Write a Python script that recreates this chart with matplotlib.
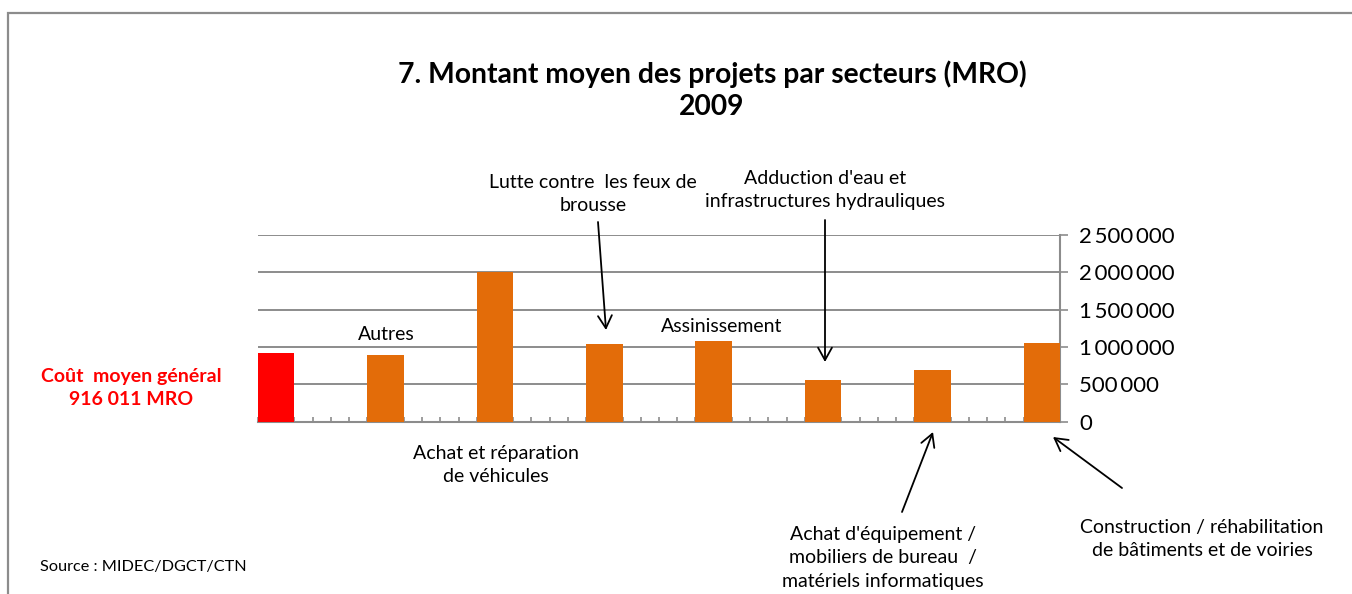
import matplotlib
matplotlib.use("Agg")
import matplotlib.pyplot as plt
from matplotlib.patches import Rectangle, FancyArrowPatch
from matplotlib.ticker import FuncFormatter, MultipleLocator

plt.rcParams['font.family'] = ['Lato', 'DejaVu Sans']

# ---- data ----
categories = ["Coût moyen général", "Autres", "Achat et réparation de véhicules",
              "Lutte contre les feux de brousse", "Assinissement",
              "Adduction d'eau et infrastructures hydrauliques",
              "Achat d'équipement / mobiliers de bureau / matériels informatiques",
              "Construction / réhabilitation de bâtiments et de voiries"]
values = [916011, 895000, 2005000, 1045000, 1075000, 560000, 690000, 1055000]
bar_colors = ["#FF0000"] + ["#E36C09"] * 7
slot_positions = [0, 6, 12, 18, 24, 30, 36, 42]   # category slots on a 44-slot axis
n_slots = 44
yticks = [0, 500000, 1000000, 1500000, 2000000, 2500000]

W, H = 1352, 594
fig = plt.figure(figsize=(W / 100, H / 100), dpi=100)

def px(x, y):
    return (x / W, 1 - y / H)

# chart border
fig.add_artist(Rectangle(px(8, 700), (W + 50) / W, (700 - 13) / H,
                         transform=fig.transFigure, fill=False,
                         edgecolor="#8C8C8C", linewidth=1.6, clip_on=False))

left, right, top, bottom = 258, 1060, 235, 421.5
ax = fig.add_axes([left / W, 1 - bottom / H, (right - left) / W, (bottom - top) / H])
ax.bar(slot_positions, values, width=2, align='edge', color=bar_colors, zorder=3)
ax.set_xlim(0, n_slots)
ax.set_ylim(0, 2500000)

ax.yaxis.tick_right()
ax.set_yticks(yticks)
ax.yaxis.set_major_formatter(FuncFormatter(lambda v, p: f"{int(v):,}".replace(",", "\u2009")))
ax.grid(axis='y', color="#8C8C8C", linewidth=1.4, zorder=0)
ax.xaxis.set_major_locator(MultipleLocator(1))
ax.set_xticklabels([])
ax.tick_params(axis='x', direction='in', length=3.5, color="#8C8C8C", width=1.2)
ax.tick_params(axis='y', direction='out', length=6, color="#8C8C8C", width=1.2,
               labelsize=16, pad=8, labelcolor='black')
for s in ['top', 'left']:
    ax.spines[s].set_visible(False)
for s in ['right', 'bottom']:
    ax.spines[s].set_color("#8C8C8C")
    ax.spines[s].set_linewidth(1.5)

# title
fig.text(*px(712, 90), "7. Montant moyen des projets par secteurs (MRO)\n2009",
         ha='center', va='center', fontsize=20.3, fontweight='bold', linespacing=1.3)

FS = 14
def label(x, y, s, **kw):
    fig.text(*px(x, y), s, ha='center', va='center', fontsize=FS, linespacing=1.45, **kw)

label(386, 334, "Autres")
label(722, 327, "Assinissement")
label(593, 194, "Lutte contre  les feux de\nbrousse")
label(825, 190, "Adduction d'eau et\ninfrastructures hydrauliques")
label(496, 465, "Achat et réparation\nde véhicules")
label(883, 558, "Achat d'équipement /\nmobiliers de bureau  /\nmatériels informatiques")
label(1202, 539, "Construction / réhabilitation\nde bâtiments et de voiries")
fig.text(*px(131, 388), "Coût  moyen général\n916 011 MRO", ha='center', va='center',
         fontsize=14, fontweight='bold', color="#FF0000", linespacing=1.45)
fig.text(*px(40, 567), "Source : MIDEC/DGCT/CTN", ha='left', va='center', fontsize=11.7)

def arrow(x0, y0, x1, y1):
    fig.add_artist(FancyArrowPatch(
        px(x0, y0), px(x1, y1), transform=fig.transFigure,
        arrowstyle='->,head_length=9,head_width=5', color='black',
        linewidth=1.3, mutation_scale=1, shrinkA=0, shrinkB=0))

arrow(598, 222, 606, 330)
arrow(825, 220, 825, 362)
arrow(902, 512, 933, 432)
arrow(1122, 488, 1053, 437)

fig.savefig("out.png", dpi=100)
